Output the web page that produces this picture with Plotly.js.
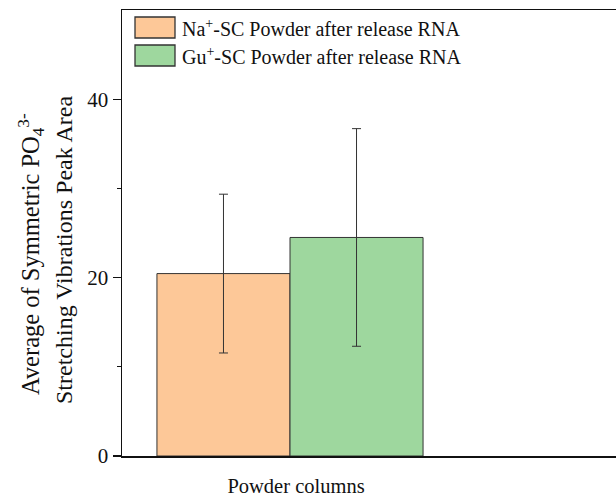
<!DOCTYPE html>
<html>
<head>
<meta charset="utf-8">
<script src="https://cdn.plot.ly/plotly-3.0.1.min.js"></script>
<style>html,body{margin:0;padding:0;background:#fff;overflow:hidden;width:616px;height:498px;}#chart{width:700px;height:498px;}</style>
</head>
<body>
<div id="chart"></div>
<script>
// ---- data ----
const category = ["Powder columns"];
const seriesNames = [
  "Na<sup>+</sup>-SC Powder after release RNA",
  "Gu<sup>+</sup>-SC Powder after release RNA"
];
const naValues = [20.45];
const naErrors = [8.9];
const guValues = [24.5];
const guErrors = [12.2];
const yTitleLine1 = "Average of Symmetric PO<sub>4</sub><sup>3-</sup>";
const yTitleLine2 = "Stretching Vibrations Peak Area";

// ---- styles ----
const colors = ["#FDC898", "#9ED79E"];
const font = "Liberation Serif, Times New Roman, serif";
const W = 700, L = 122, PW = W - L, PH = 446, T = 10;

const errStyle = {type: "data", visible: true, color: "#333", thickness: 1, width: 4.5};

const traces = [
  {type: "bar", x: category, y: naValues, name: seriesNames[0],
   error_y: Object.assign({array: naErrors}, errStyle),
   marker: {color: colors[0], line: {color: "#333", width: 1}}},
  {type: "bar", x: category, y: guValues, name: seriesNames[1],
   error_y: Object.assign({array: guErrors}, errStyle),
   marker: {color: colors[1], line: {color: "#333", width: 1}}}
];

const px = (x) => (x - L) / PW;
const py = (y) => 1 - (y - T) / PH;

// legend drawn with shapes + annotations
const shapes = [];
const annotations = [];
const legTop = [17, 45];
seriesNames.forEach((n, i) => {
  shapes.push({type: "rect", xref: "paper", yref: "paper",
    x0: px(135), x1: px(175), y0: py(legTop[i] + 21), y1: py(legTop[i]),
    fillcolor: colors[i], line: {color: "#333", width: 1.3}});
  annotations.push({xref: "paper", yref: "paper", x: px(180), y: py(legTop[i] + 10.5),
    xanchor: "left", yanchor: "middle",
    text: n, showarrow: false, font: {family: font, size: 20, color: "#111"}});
});
annotations.push({xref: "paper", yref: "paper", x: px(31), y: py(254),
  text: yTitleLine1, textangle: -90, showarrow: false, xanchor: "center", yanchor: "middle",
  font: {family: font, size: 24.5, color: "#111"}});
annotations.push({xref: "paper", yref: "paper", x: px(64), y: py(250),
  text: yTitleLine2, textangle: -90, showarrow: false, xanchor: "center", yanchor: "middle",
  font: {family: font, size: 24, color: "#111"}});

const layout = {
  width: W, height: 498,
  margin: {l: L, r: 0, t: T, b: 42, pad: 0},
  paper_bgcolor: "#fff", plot_bgcolor: "#fff",
  showlegend: false,
  barmode: "group", bargap: 0.208, bargroupgap: 0,
  font: {family: font, size: 20, color: "#111"},
  xaxis: {type: "category", range: [-0.5, -0.5 + PW / 336], showgrid: false, zeroline: false,
    showline: true, linecolor: "#111", linewidth: 1.5, mirror: true, ticks: "",
    tickfont: {family: font, size: 20.5, color: "#111"}, ticklabelstandoff: 11, ticklabelshift: 6},
  yaxis: {range: [0, 50], tickvals: [0, 20, 40], showgrid: false, zeroline: false,
    showline: true, linecolor: "#111", linewidth: 1.5, mirror: false, ticks: "outside", ticklen: 8,
    tickwidth: 1.2, tickcolor: "#111",
    minor: {tickvals: [10, 30], ticks: "outside", ticklen: 4, tickwidth: 1, tickcolor: "#111", showgrid: false},
    tickfont: {family: font, size: 21, color: "#111"}},
  shapes: shapes,
  annotations: annotations
};

Plotly.newPlot("chart", traces, layout, {displayModeBar: false, staticPlot: true});
</script>
</body>
</html>
